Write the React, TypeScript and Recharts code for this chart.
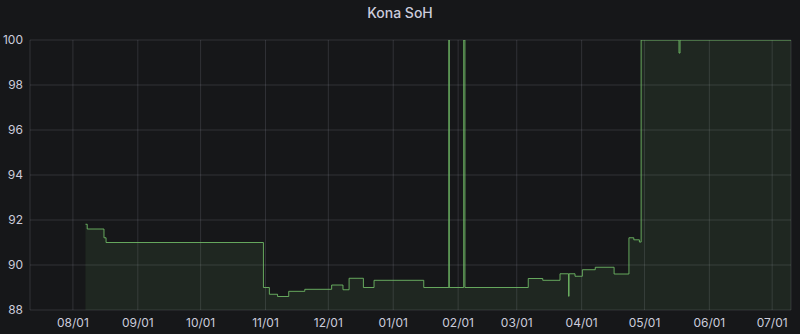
import React from "react";
import { ComposedChart, Area, XAxis, YAxis, CartesianGrid } from "recharts";

// SoH readings (step series): timestamps (UTC) and values
const times: string[] = [
  "2021-08-07T00:00Z",
  "2021-08-07T20:00Z",
  "2021-08-15T20:00Z",
  "2021-08-16T20:00Z",
  "2021-10-31T00:00Z",
  "2021-11-02T20:00Z",
  "2021-11-06T18:00Z",
  "2021-11-12T02:00Z",
  "2021-11-19T18:00Z",
  "2021-12-02T14:00Z",
  "2021-12-08T00:00Z",
  "2021-12-10T22:00Z",
  "2021-12-17T18:00Z",
  "2021-12-22T20:00Z",
  "2022-01-15T14:00Z",
  "2022-01-27T14:00Z",
  "2022-01-27T18:00Z",
  "2022-02-03T16:00Z",
  "2022-02-04T06:00Z",
  "2022-03-06T12:00Z",
  "2022-03-13T10:00Z",
  "2022-03-21T16:00Z",
  "2022-03-25T18:00Z",
  "2022-03-26T00:00Z",
  "2022-03-28T20:00Z",
  "2022-04-01T08:00Z",
  "2022-04-07T12:00Z",
  "2022-04-16T12:00Z",
  "2022-04-23T14:00Z",
  "2022-04-25T22:00Z",
  "2022-04-28T14:00Z",
  "2022-04-29T10:00Z",
  "2022-05-17T12:00Z",
  "2022-05-18T00:00Z",
  "2022-07-10T00:00Z",
];
const soh: number[] = [
  91.81, 91.6, 91.21, 91.0, 89.0, 88.7, 88.6, 88.83, 88.92, 89.11, 88.9, 89.41,
  89.0, 89.32, 89.0, 100, 89.0, 100, 89.0, 89.4, 89.32, 89.61, 88.61, 89.61,
  89.5, 89.79, 89.9, 89.6, 91.21, 91.12, 91.02, 100, 99.42, 100, 100,
];
const monthTicks: string[] = [
  "2021-08-01", "2021-09-01", "2021-10-01", "2021-11-01", "2021-12-01", "2022-01-01",
  "2022-02-01", "2022-03-01", "2022-04-01", "2022-05-01", "2022-06-01", "2022-07-01",
];
const yTicks: number[] = [88, 90, 92, 94, 96, 98, 100];
const domainStart = "2021-07-11T12:00Z";
const domainEnd = "2022-07-10T00:00Z";

const data = times.map((t, i) => ({ t: Date.parse(t), v: soh[i] }));
const xTicks = monthTicks.map((d) => Date.parse(d + "T00:00Z"));

const pad = (n: number) => (n < 10 ? "0" + n : "" + n);
const fmt = (ts: number) => {
  const d = new Date(ts);
  return pad(d.getUTCMonth() + 1) + "/" + pad(d.getUTCDate());
};

const TEXT = "#ccccdc";
const GREEN = "#73BF69";

export default function App() {
  return (
    <div
      style={{
        position: "absolute",
        left: 0,
        top: 0,
        width: 800,
        height: 334,
        background: "#161719",
        fontFamily: "Inter, Roboto, sans-serif",
      }}
    >
      <div
        style={{
          position: "absolute",
          top: 3,
          left: 0,
          width: 800,
          textAlign: "center",
          color: TEXT,
          fontSize: 14,
          fontWeight: 500,
          lineHeight: "20px",
        }}
      >
        Kona SoH
      </div>
      <ComposedChart
        width={800}
        height={334}
        data={data}
        margin={{ top: 40, right: 9, bottom: 0, left: 0 }}
      >
        <CartesianGrid stroke="rgba(204,204,220,0.15)" strokeWidth={1} />
        <XAxis
          dataKey="t"
          type="number"
          scale="time"
          domain={[Date.parse(domainStart), Date.parse(domainEnd)]}
          ticks={xTicks}
          tickFormatter={fmt}
          axisLine={false}
          tickLine={false}
          height={24}
          tick={{ fill: TEXT, fontSize: 12 }}
          allowDataOverflow
        />
        <YAxis
          type="number"
          domain={[88, 100]}
          ticks={yTicks}
          width={30}
          axisLine={false}
          tickLine={false}
          tickSize={6}
          tickMargin={1}
          tick={{ fill: TEXT, fontSize: 12 }}
          allowDataOverflow
        />
        <Area
          dataKey="v"
          type="stepAfter"
          stroke={GREEN}
          strokeOpacity={0.85}
          strokeWidth={1}
          fill={GREEN}
          fillOpacity={0.1}
          baseValue={88}
          isAnimationActive={false}
          dot={false}
          activeDot={false}
        />
      </ComposedChart>
    </div>
  );
}
